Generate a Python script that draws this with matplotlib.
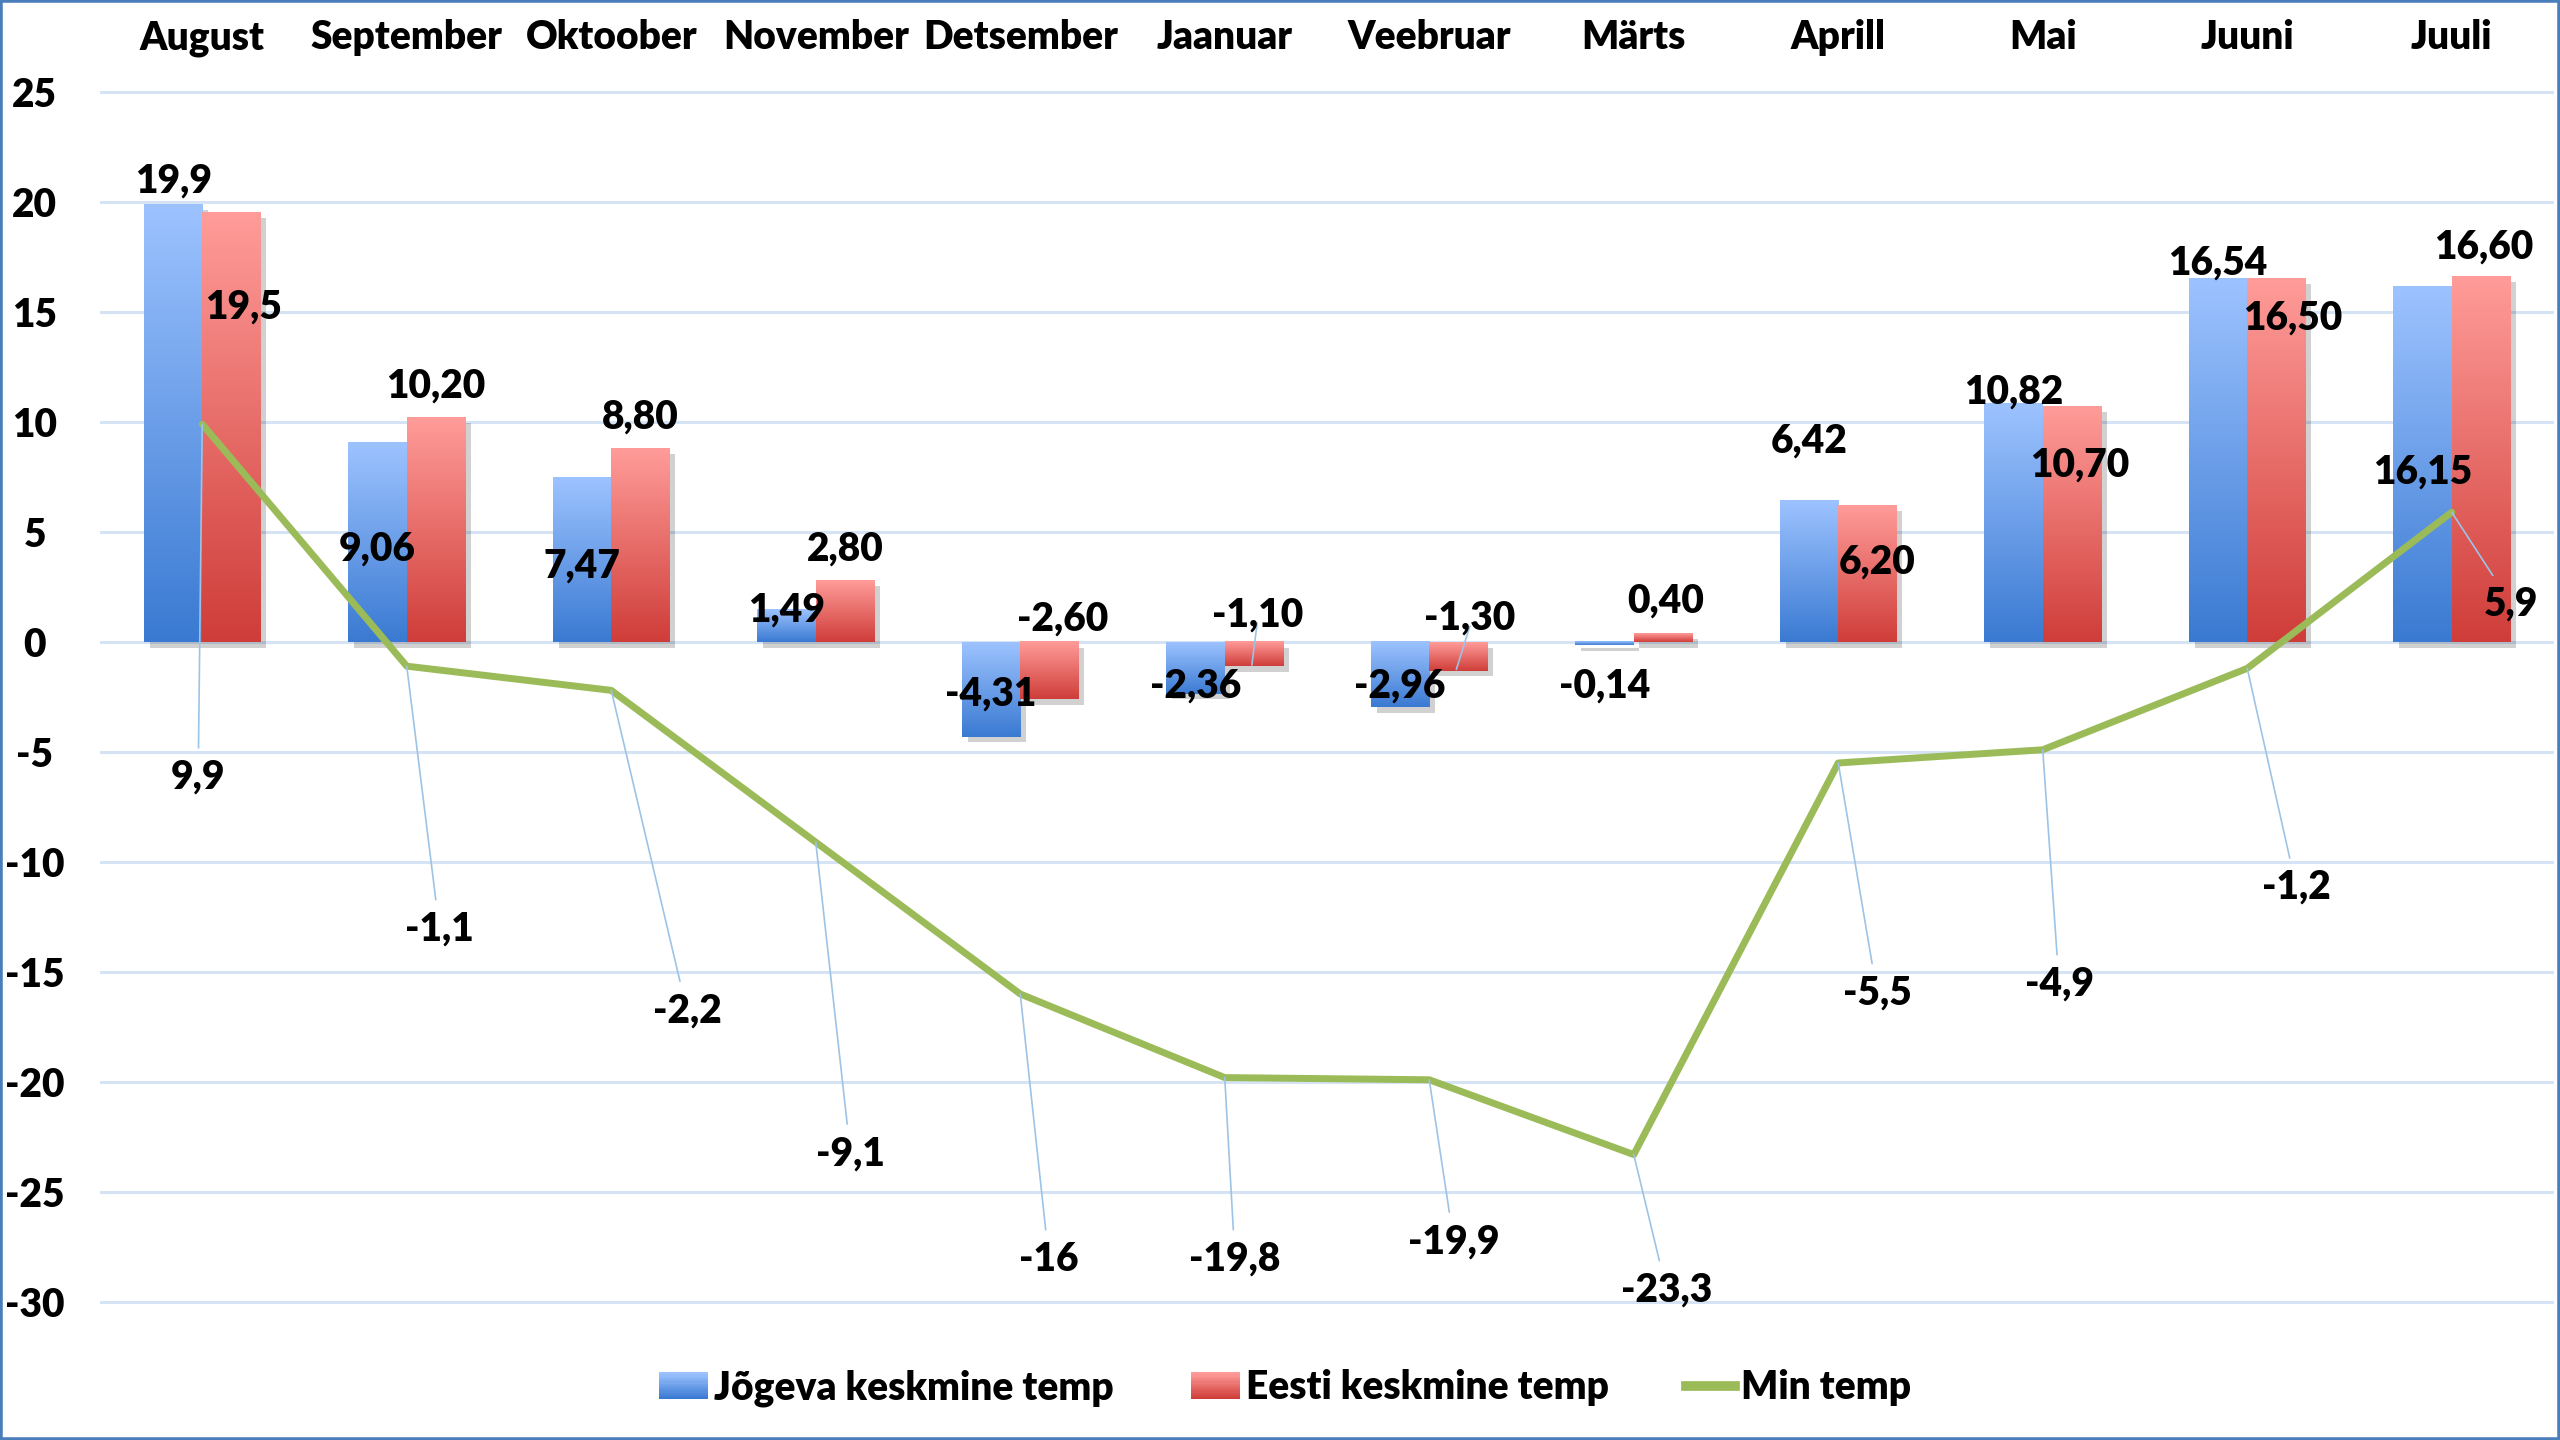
import numpy as np
import matplotlib
matplotlib.use('Agg')
import matplotlib.pyplot as plt
from matplotlib.colors import LinearSegmentedColormap
from matplotlib.patches import Rectangle
from matplotlib.lines import Line2D
from matplotlib.legend_handler import HandlerBase
import matplotlib.patheffects as pe

plt.rcParams['font.family'] = ['Lato', 'DejaVu Sans']
plt.rcParams['font.weight'] = 'heavy'

# data
months = ['August', 'September', 'Oktoober', 'November', 'Detsember', 'Jaanuar',
          'Veebruar', 'Märts', 'Aprill', 'Mai', 'Juuni', 'Juuli']
jogeva = [19.9, 9.06, 7.47, 1.49, -4.31, -2.36, -2.96, -0.14, 6.42, 10.82, 16.54, 16.15]
eesti = [19.5, 10.20, 8.80, 2.80, -2.60, -1.10, -1.30, 0.40, 6.20, 10.70, 16.50, 16.60]
min_temp = [9.9, -1.1, -2.2, -9.1, -16, -19.8, -19.9, -23.3, -5.5, -4.9, -1.2, 5.9]
jogeva_text = ['19,9', '9,06', '7,47', '1,49', '-4,31', '-2,36', '-2,96', '-0,14',
               '6,42', '10,82', '16,54', '16,15']
eesti_text = ['19,5', '10,20', '8,80', '2,80', '-2,60', '-1,10', '-1,30', '0,40',
              '6,20', '10,70', '16,50', '16,60']
yticks = [25, 20, 15, 10, 5, 0, -5, -10, -15, -20, -25, -30]

# where the data labels were dragged to
jog_lab_y = [21.1, 4.4, 3.6, 1.6, -2.2, -1.85, -1.85, -1.85, 9.3, 11.5, 17.4, 7.9]
est_lab_y = [15.4, 11.8, 10.4, 4.4, 1.2, 1.4, 1.26, 2.0, 3.8, 8.2, 14.9, 18.1]
est_lab_dx = [0.058, 0, 0, 0, 0.064, 0.016, 0.056, 0.016, 0.048, 0.04, 0.08, 0.016]
min_lab_y = [-6.0, -12.9, -16.6, -23.1, -27.9, -27.9, -27.1, -29.3, -15.8, -15.4, -11.0, 1.9]
min_lab_dx = [-0.02, 0.16, 0.37, 0.17, 0.14, 0.05, 0.12, 0.16, 0.19, 0.08, 0.24, 0.29]

blue_cmap = LinearSegmentedColormap.from_list('b', ['#3a7ad2', '#9dc3ff'])
red_cmap = LinearSegmentedColormap.from_list('r', ['#cf3d39', '#ff9c99'])
leader = '#9dc3e6'
fs = 28
wt = 'heavy'

fig = plt.figure(figsize=(25.6, 14.4), dpi=100)
ax = fig.add_axes([100/2560, 0.0882, 2454/2560, 0.8556])

x = np.arange(len(months))
w = 0.285
grad = np.linspace(0, 1, 256).reshape(-1, 1)


def gradient_bars(xs, vals, cmap):
    bars = ax.bar(xs, vals, w, color=cmap(0.5), zorder=2,
                  path_effects=[pe.SimplePatchShadow(offset=(4, -4), shadow_rgbFace='k', alpha=0.18),
                                pe.Normal()])
    for b in bars:
        x0, y0 = b.get_x(), b.get_y()
        h = b.get_height()
        ylo, yhi = min(y0, y0 + h), max(y0, y0 + h)
        ax.imshow(grad, extent=[x0, x0 + w, ylo, yhi], origin='lower', cmap=cmap,
                  aspect='auto', zorder=2.1, interpolation='bicubic')
    return bars


gradient_bars(x - w/2, jogeva, blue_cmap)
gradient_bars(x + w/2, eesti, red_cmap)

ax.plot(x, min_temp, color='#9bbb59', lw=5, zorder=3, solid_capstyle='round')

# labels
for i in range(len(months)):
    ax.text(x[i] - w/2, jog_lab_y[i], jogeva_text[i], ha='center', va='center_baseline',
            fontsize=fs, fontweight=wt, zorder=5)
    ax.text(x[i] + w/2 + est_lab_dx[i], est_lab_y[i], eesti_text[i], ha='center',
            va='center_baseline', fontsize=fs, fontweight=wt, zorder=5)
    ax.annotate(f"{min_temp[i]:g}".replace('.', ','), xy=(x[i], min_temp[i]),
                xytext=(x[i] + min_lab_dx[i], min_lab_y[i]), ha='center', va='center_baseline',
                fontsize=fs, fontweight=wt, zorder=5,
                arrowprops=dict(arrowstyle='-', color=leader, lw=1.2, shrinkA=6, shrinkB=0))
    ax.text(x[i], 26.95, months[i], ha='center', va='baseline', fontsize=fs, fontweight=wt)

# short leader lines on the small Eesti bars
for i in [5, 6]:
    ax.annotate('', xy=(x[i] + w/2 - 0.01, eesti[i] + 0.05),
                xytext=(x[i] + w/2 + est_lab_dx[i], est_lab_y[i] - 0.55),
                arrowprops=dict(arrowstyle='-', color=leader, lw=1.2, shrinkA=0, shrinkB=0), zorder=4)

ax.set_xlim(-0.5, len(months) - 0.5)
ax.set_ylim(-30.5, 25.5)
ax.set_yticks(yticks)
ax.set_yticklabels([str(t) for t in yticks], fontsize=fs, fontweight=wt, ha='center')
ax.tick_params(axis='y', length=0, pad=47)
ax.set_xticks([])
for s in ax.spines.values():
    s.set_visible(False)
ax.grid(axis='y', color='#d6e3f4', lw=2.2, zorder=0)
ax.set_axisbelow(True)


class GradHandler(HandlerBase):
    def __init__(self, cmap):
        super().__init__()
        self.cmap = cmap

    def create_artists(self, legend, orig_handle, xdescent, ydescent, width, height, fontsize, trans):
        n = 12
        arts = []
        for k in range(n):
            r = Rectangle((-xdescent, -ydescent + height * k / n), width, height / n + 0.3,
                          facecolor=self.cmap(k / (n - 1)), edgecolor='none', transform=trans)
            arts.append(r)
        return arts


h1 = Rectangle((0, 0), 1, 1)
h2 = Rectangle((0, 0), 1, 1, fill=False)
h3 = Line2D([], [], color='#9bbb59', lw=7)
fig.legend([h1, h2, h3], ['Jõgeva keskmine temp', 'Eesti keskmine temp', 'Min temp'],
           loc='center', bbox_to_anchor=(0.502, 0.036), ncol=3, frameon=False,
           prop={'size': fs, 'weight': wt}, handlelength=1.25, handleheight=0.7,
           handletextpad=0.15, columnspacing=2.0,
           handler_map={h1: GradHandler(blue_cmap), h2: GradHandler(red_cmap)})

fig.patches.append(Rectangle((0, 0), 1, 1, transform=fig.transFigure, fill=False,
                             edgecolor='#4a7ebb', lw=4))

fig.savefig('out.png', dpi=100)
